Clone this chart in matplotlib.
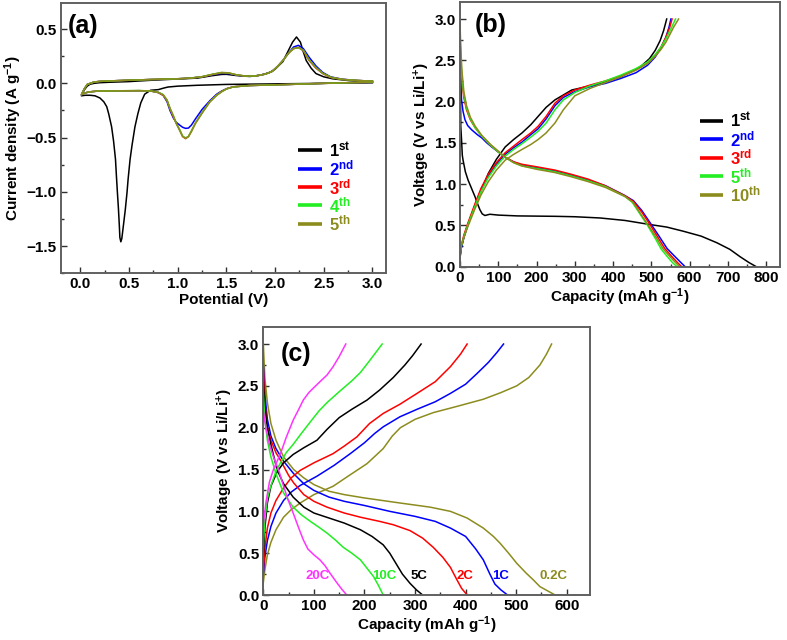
import matplotlib
matplotlib.use("Agg")
import matplotlib.pyplot as plt
from matplotlib.ticker import MultipleLocator

plt.rcParams['font.family'] = ['Liberation Sans', 'DejaVu Sans']
plt.rcParams['font.weight'] = 'bold'
plt.rcParams['axes.labelweight'] = 'bold'
plt.rcParams['mathtext.fontset'] = 'custom'
plt.rcParams['mathtext.rm'] = 'Liberation Sans:bold'
plt.rcParams['mathtext.bf'] = 'Liberation Sans:bold'
plt.rcParams['mathtext.it'] = 'Liberation Sans:bold'
plt.rcParams['mathtext.default'] = 'bf'

C_BLACK = '#000000'
C_BLUE = '#0000ff'
C_RED = '#ff0000'
C_GREEN = '#22ee22'
C_OLIVE = '#8c8c1e'
C_MAG = '#ff33ff'

# ---------------- (a) CV data ----------------
cv1_v_cath = [3.0, 2.5, 2.0, 1.5, 1.2, 1.0, 0.9, 0.85, 0.8, 0.72, 0.66, 0.62, 0.59, 0.56, 0.53,
              0.51, 0.49, 0.478, 0.46, 0.44, 0.425, 0.415, 0.405, 0.40, 0.39, 0.38, 0.37, 0.36,
              0.34, 0.32, 0.29, 0.27, 0.24, 0.2, 0.15, 0.1, 0.05, 0.01]
cv1_i_cath = [0.005, 0.0, -0.005, -0.01, -0.018, -0.026, -0.034, -0.045, -0.058, -0.064, -0.10,
              -0.18, -0.28, -0.40, -0.57, -0.70, -0.88, -1.01, -1.17, -1.32, -1.43, -1.46, -1.42,
              -1.32, -1.15, -1.01, -0.86, -0.70, -0.53, -0.40, -0.28, -0.215, -0.17, -0.135,
              -0.115, -0.11, -0.11, -0.115]
cv1_v_an = [0.01, 0.04, 0.07, 0.1, 0.14, 0.2, 0.3, 0.5, 0.72, 1.0, 1.2, 1.35, 1.45, 1.5, 1.6,
            1.74, 1.85, 1.945, 2.0, 2.08, 2.13, 2.18, 2.22, 2.26, 2.29, 2.32, 2.37, 2.42, 2.5,
            2.59, 2.76, 3.0]
cv1_i_an = [-0.115, -0.06, -0.025, -0.008, 0.0, 0.006, 0.01, 0.016, 0.028, 0.04, 0.048, 0.07,
            0.082, 0.083, 0.072, 0.063, 0.075, 0.1, 0.13, 0.2, 0.29, 0.38, 0.427, 0.38, 0.29,
            0.21, 0.14, 0.09, 0.06, 0.042, 0.025, 0.014]

cv_v_cath = [3.0, 2.5, 2.08, 1.74, 1.57, 1.5, 1.45, 1.4, 1.33, 1.25, 1.18, 1.14, 1.11, 1.08, 1.05,
             1.02, 0.985, 0.955, 0.92, 0.89, 0.85, 0.8, 0.72, 0.6, 0.48, 0.3, 0.17, 0.08, 0.03, 0.01]
cv2_i_cath = [0.01, 0.0, -0.012, -0.02, -0.032, -0.05, -0.072, -0.10, -0.16, -0.24, -0.33, -0.385,
              -0.412, -0.415, -0.405, -0.385, -0.36, -0.32, -0.25, -0.17, -0.11, -0.085, -0.07,
              -0.068, -0.069, -0.07, -0.072, -0.08, -0.095, -0.105]
cv3_i_cath = [0.01, 0.0, -0.012, -0.02, -0.032, -0.05, -0.075, -0.108, -0.17, -0.27, -0.37, -0.44,
              -0.49, -0.51, -0.49, -0.43, -0.37, -0.31, -0.235, -0.16, -0.11, -0.085, -0.07,
              -0.068, -0.069, -0.07, -0.072, -0.08, -0.095, -0.105]
cv4_i_cath = [0.01, 0.0, -0.012, -0.02, -0.033, -0.052, -0.078, -0.11, -0.17, -0.27, -0.37, -0.44,
              -0.49, -0.505, -0.485, -0.43, -0.37, -0.30, -0.23, -0.155, -0.105, -0.083, -0.07,
              -0.067, -0.068, -0.07, -0.072, -0.08, -0.095, -0.105]
cv5_i_cath = [0.012, 0.0, -0.012, -0.02, -0.033, -0.052, -0.078, -0.11, -0.17, -0.275, -0.37,
              -0.445, -0.49, -0.505, -0.49, -0.435, -0.37, -0.30, -0.23, -0.155, -0.105, -0.083,
              -0.07, -0.067, -0.068, -0.07, -0.072, -0.08, -0.095, -0.105]
cv_v_an = [0.01, 0.04, 0.07, 0.14, 0.2, 0.3, 0.48, 0.72, 1.0, 1.13, 1.25, 1.35, 1.45, 1.52, 1.6,
           1.7, 1.8, 1.9, 1.97, 2.03, 2.08, 2.14, 2.19, 2.24, 2.29, 2.35, 2.42, 2.49, 2.57, 2.69,
           2.85, 3.0]
cv2_i_an = [-0.105, -0.05, -0.01, 0.012, 0.018, 0.022, 0.028, 0.035, 0.042, 0.048, 0.06, 0.078,
            0.092, 0.09, 0.076, 0.065, 0.068, 0.085, 0.11, 0.16, 0.21, 0.28, 0.335, 0.35, 0.32,
            0.24, 0.16, 0.10, 0.06, 0.038, 0.026, 0.02]
cv3_i_an = [-0.105, -0.05, -0.01, 0.012, 0.018, 0.022, 0.028, 0.035, 0.042, 0.048, 0.06, 0.08,
            0.097, 0.095, 0.078, 0.066, 0.068, 0.085, 0.11, 0.16, 0.21, 0.28, 0.32, 0.33, 0.30,
            0.21, 0.14, 0.09, 0.055, 0.036, 0.026, 0.02]
cv4_i_an = [-0.105, -0.05, -0.01, 0.012, 0.018, 0.022, 0.028, 0.035, 0.042, 0.048, 0.061, 0.082,
            0.099, 0.096, 0.079, 0.066, 0.068, 0.085, 0.11, 0.16, 0.21, 0.28, 0.32, 0.33, 0.305,
            0.215, 0.145, 0.092, 0.056, 0.036, 0.026, 0.02]
cv5_i_an = [-0.105, -0.05, -0.01, 0.012, 0.018, 0.022, 0.028, 0.035, 0.042, 0.048, 0.061, 0.082,
            0.1, 0.097, 0.079, 0.066, 0.068, 0.085, 0.11, 0.16, 0.21, 0.28, 0.32, 0.33, 0.305,
            0.215, 0.145, 0.092, 0.056, 0.036, 0.026, 0.02]
cv_labels = [r'1$^{st}$', r'2$^{nd}$', r'3$^{rd}$', r'4$^{th}$', r'5$^{th}$']

# ---------------- (b) cycling data ----------------
b1_dis_cap = [0, 1, 2, 4, 6, 8, 14, 21, 30, 39, 46, 52, 58, 65, 78, 100, 150, 250, 300, 366, 431,
              497, 540, 583, 630, 671, 705, 732, 755, 774]
b1_dis_v = [2.9, 2.2, 1.7, 1.54, 1.35, 1.29, 1.15, 1.05, 0.95, 0.85, 0.76, 0.69, 0.64, 0.62, 0.635,
            0.625, 0.615, 0.61, 0.605, 0.59, 0.56, 0.51, 0.48, 0.43, 0.37, 0.29, 0.21, 0.12, 0.05, 0.0]
b1_ch_cap = [0, 3, 10, 20, 39, 55, 74, 95, 118, 140, 162, 185, 204, 225, 248, 270, 292, 330, 366,
             420, 471, 495, 510, 523, 532, 540]
b1_ch_v = [0.12, 0.22, 0.35, 0.5, 0.73, 0.92, 1.13, 1.3, 1.45, 1.54, 1.62, 1.72, 1.82, 1.93, 2.02,
           2.08, 2.14, 2.18, 2.22, 2.3, 2.42, 2.52, 2.62, 2.74, 2.86, 3.0]

b2_dis_cap = [0, 2, 4, 8, 13, 20, 30, 45, 57, 70, 83, 100, 120, 140, 162, 200, 248, 290, 335, 380,
              431, 453, 475, 497, 520, 541, 560, 575, 588]
b2_dis_v = [2.45, 2.25, 2.02, 1.88, 1.78, 1.71, 1.66, 1.6, 1.56, 1.5, 1.45, 1.39, 1.32, 1.27, 1.23,
            1.2, 1.16, 1.11, 1.05, 0.98, 0.86, 0.8, 0.68, 0.53, 0.37, 0.22, 0.13, 0.06, 0.0]
b3_dis_cap = [0, 2, 5, 10, 17, 27, 40, 57, 80, 100, 120, 140, 162, 200, 248, 290, 335, 380, 431,
              453, 475, 495, 515, 535, 552, 566, 579]
b3_dis_v = [2.8, 2.5, 2.25, 2.05, 1.9, 1.78, 1.68, 1.58, 1.47, 1.39, 1.32, 1.27, 1.24, 1.21, 1.17,
            1.12, 1.06, 0.98, 0.86, 0.79, 0.66, 0.52, 0.37, 0.22, 0.13, 0.06, 0.0]
b5_dis_cap = [0, 2, 5, 10, 17, 27, 40, 57, 80, 100, 120, 140, 162, 200, 248, 290, 335, 380, 431,
              450, 470, 490, 508, 526, 542, 555, 567]
b5_dis_v = [2.85, 2.55, 2.3, 2.08, 1.92, 1.79, 1.68, 1.58, 1.47, 1.39, 1.32, 1.26, 1.22, 1.19, 1.15,
            1.1, 1.04, 0.97, 0.85, 0.78, 0.64, 0.5, 0.36, 0.21, 0.12, 0.05, 0.0]
b10_dis_cap = [0, 2, 5, 10, 17, 27, 40, 57, 80, 100, 120, 140, 162, 200, 248, 290, 335, 380, 431,
               452, 472, 492, 512, 530, 547, 561, 574]
b10_dis_v = [2.95, 2.65, 2.38, 2.12, 1.95, 1.81, 1.7, 1.59, 1.48, 1.4, 1.32, 1.26, 1.22, 1.18, 1.14,
             1.09, 1.03, 0.96, 0.85, 0.78, 0.64, 0.5, 0.36, 0.22, 0.13, 0.06, 0.0]

b_ch_cap = [0, 3, 10, 20, 39, 55, 74, 95, 118, 140, 162, 185, 204, 225, 248, 270, 300, 340, 380,
            420, 460, 490, 510, 525, 538]
b2_ch_v = [0.1, 0.22, 0.36, 0.5, 0.74, 0.93, 1.1, 1.24, 1.36, 1.44, 1.51, 1.6, 1.67, 1.79, 1.95,
           2.05, 2.12, 2.18, 2.22, 2.28, 2.35, 2.44, 2.54, 2.65, 2.78]
b3_ch_v = [0.12, 0.25, 0.38, 0.52, 0.76, 0.95, 1.12, 1.26, 1.38, 1.46, 1.54, 1.62, 1.7, 1.82, 1.98,
           2.07, 2.14, 2.2, 2.25, 2.31, 2.39, 2.47, 2.56, 2.66, 2.78]
b5_ch_v = [0.12, 0.24, 0.36, 0.5, 0.73, 0.91, 1.08, 1.22, 1.34, 1.42, 1.49, 1.57, 1.64, 1.74, 1.9,
           2.02, 2.11, 2.19, 2.25, 2.32, 2.4, 2.48, 2.57, 2.66, 2.76]
b10_ch_v = [0.15, 0.25, 0.35, 0.48, 0.7, 0.87, 1.03, 1.17, 1.29, 1.36, 1.42, 1.48, 1.54, 1.62, 1.74,
            1.9, 2.07, 2.16, 2.23, 2.3, 2.38, 2.46, 2.55, 2.63, 2.72]
b2_ch_end_cap = [546, 551]
b3_ch_end_cap = [548, 554]
b5_ch_end_cap = [553, 563]
b10_ch_end_cap = [558, 571]
b_ch_end_v = [2.9, 3.0]
b_labels = [r'1$^{st}$', r'2$^{nd}$', r'3$^{rd}$', r'5$^{th}$', r'10$^{th}$']

# ---------------- (c) rate data ----------------
rates = ['0.2C', '1C', '2C', '5C', '10C', '20C']

c02_dis_cap = [0, 3, 8, 15, 25, 40, 60, 80, 100, 130, 160, 200, 270, 330, 370, 403, 435, 455, 468,
               485, 501, 520, 534, 547, 562, 577]
c02_dis_v = [3.0, 2.6, 2.3, 2.05, 1.85, 1.65, 1.5, 1.4, 1.32, 1.24, 1.2, 1.16, 1.1, 1.05, 1.0, 0.92,
             0.8, 0.7, 0.62, 0.5, 0.38, 0.26, 0.18, 0.1, 0.05, 0.0]
c1_dis_cap = [0, 3, 8, 15, 25, 40, 60, 80, 100, 130, 160, 200, 250, 300, 340, 370, 400, 420, 435,
              448, 458, 470, 483]
c1_dis_v = [2.75, 2.4, 2.1, 1.9, 1.75, 1.6, 1.45, 1.33, 1.25, 1.17, 1.12, 1.07, 1.0, 0.94, 0.88,
            0.8, 0.7, 0.55, 0.42, 0.25, 0.13, 0.06, 0.0]
c2_dis_cap = [0, 3, 8, 15, 25, 35, 50, 60, 80, 100, 126, 160, 192, 230, 257, 290, 315, 336, 355,
              370, 383, 392, 403]
c2_dis_v = [2.7, 2.3, 2.0, 1.85, 1.7, 1.6, 1.43, 1.34, 1.2, 1.12, 1.05, 0.98, 0.93, 0.88, 0.84,
            0.77, 0.68, 0.57, 0.45, 0.33, 0.18, 0.08, 0.0]
c5_dis_cap = [0, 3, 8, 15, 27, 40, 59, 80, 100, 130, 160, 192, 215, 237, 250, 262, 275, 290, 303, 315]
c5_dis_v = [2.55, 2.25, 2.0, 1.8, 1.5, 1.33, 1.17, 1.05, 0.98, 0.92, 0.86, 0.78, 0.7, 0.6, 0.5,
            0.38, 0.25, 0.14, 0.06, 0.0]
c10_dis_cap = [0, 3, 8, 15, 25, 40, 59, 75, 93, 110, 126, 142, 158, 175, 192, 205, 218, 228, 237]
c10_dis_v = [2.4, 2.1, 1.85, 1.65, 1.45, 1.22, 1.05, 0.96, 0.88, 0.81, 0.74, 0.66, 0.57, 0.5, 0.42,
             0.32, 0.22, 0.11, 0.0]
c20_dis_cap = [0, 5, 12, 20, 30, 40, 50, 59, 70, 79, 88, 100, 112, 122, 132, 145, 155, 165]
c20_dis_v = [2.2, 2.0, 1.8, 1.65, 1.5, 1.3, 1.12, 0.98, 0.8, 0.66, 0.55, 0.48, 0.42, 0.35, 0.26,
             0.15, 0.07, 0.0]

c02_ch_cap = [0, 3, 8, 15, 25, 40, 55, 73, 100, 138, 170, 205, 237, 255, 271, 300, 336, 380, 435,
              470, 501, 525, 547, 560, 570]
c02_ch_v = [0.15, 0.3, 0.48, 0.63, 0.78, 0.93, 1.02, 1.1, 1.2, 1.3, 1.43, 1.57, 1.75, 1.9, 2.0,
            2.1, 2.18, 2.25, 2.34, 2.42, 2.5, 2.6, 2.75, 2.88, 3.0]
c1_ch_cap = [0, 3, 8, 15, 25, 40, 55, 73, 106, 140, 172, 200, 220, 237, 270, 304, 340, 370, 400,
             423, 445, 462, 475]
c1_ch_v = [0.25, 0.45, 0.65, 0.82, 0.98, 1.13, 1.23, 1.31, 1.42, 1.55, 1.69, 1.82, 1.93, 2.01,
           2.13, 2.22, 2.31, 2.41, 2.52, 2.65, 2.78, 2.9, 3.0]
c2_ch_cap = [0, 3, 8, 15, 25, 40, 55, 73, 100, 138, 160, 185, 210, 237, 270, 304, 340, 370, 390, 403]
c2_ch_v = [0.3, 0.55, 0.8, 0.98, 1.13, 1.28, 1.4, 1.49, 1.58, 1.69, 1.78, 1.89, 2.05, 2.17, 2.28,
           2.41, 2.55, 2.73, 2.88, 3.0]
c5_ch_cap = [0, 3, 8, 15, 27, 40, 59, 80, 106, 126, 150, 175, 205, 230, 257, 280, 295, 312]
c5_ch_v = [0.45, 0.8, 1.1, 1.3, 1.47, 1.58, 1.68, 1.76, 1.85, 1.98, 2.12, 2.22, 2.33, 2.45, 2.6,
           2.75, 2.86, 3.0]
c10_ch_cap = [0, 3, 8, 14, 25, 34, 45, 59, 75, 93, 110, 126, 150, 175, 192, 210, 235]
c10_ch_v = [0.6, 0.9, 1.15, 1.29, 1.48, 1.58, 1.7, 1.8, 1.93, 2.07, 2.2, 2.3, 2.43, 2.56, 2.66,
            2.8, 3.0]
c20_ch_cap = [0, 5, 12, 20, 34, 45, 59, 70, 79, 90, 100, 112, 126, 138, 150, 163]
c20_ch_v = [0.85, 1.1, 1.35, 1.5, 1.69, 1.88, 2.09, 2.22, 2.33, 2.42, 2.48, 2.55, 2.63, 2.73, 2.85, 3.0]

# ---------------- figure ----------------
fig = plt.figure(figsize=(7.87, 6.40), dpi=100)
axa = fig.add_axes([0.0775, 0.573, 0.413, 0.4223])
axb = fig.add_axes([0.5845, 0.5833, 0.4066, 0.4128])
axc = fig.add_axes([0.3346, 0.0703, 0.4151, 0.4183])

SPINE = '#606060'
for ax in (axa, axb, axc):
    for s in ax.spines.values():
        s.set_color(SPINE)
        s.set_linewidth(1.4)
    ax.tick_params(which='both', direction='in', top=False, right=False, labelsize=11,
                   color='#303030', width=1.0, pad=3)
    ax.tick_params(which='major', length=4.5)
    ax.tick_params(which='minor', length=2.5)


def manual_legend(ax, labels, colors, x0, x1, xt, y0, dy):
    for i, (lab, col) in enumerate(zip(labels, colors)):
        y = y0 - i * dy
        ax.plot([x0, x1], [y, y], transform=ax.transAxes, color=col, lw=2.6,
                solid_capstyle='butt', clip_on=False)
        ax.text(xt, y, lab, transform=ax.transAxes, color=col, fontsize=12,
                fontweight='bold', ha='left', va='center')


LW = 1.1
# (a)
cv_cols = [C_BLACK, C_BLUE, C_RED, C_GREEN, C_OLIVE]
cath_list = [cv2_i_cath, cv3_i_cath, cv4_i_cath, cv5_i_cath]
an_list = [cv2_i_an, cv3_i_an, cv4_i_an, cv5_i_an]
axa.plot(cv1_v_cath + cv1_v_an, cv1_i_cath + cv1_i_an, color=cv_cols[0], lw=LW)
for k in range(4):
    axa.plot(cv_v_cath + cv_v_an, cath_list[k] + an_list[k], color=cv_cols[k + 1], lw=LW)
axa.set_xlim(-0.2, 3.14)
axa.set_ylim(-1.75, 0.74)
axa.xaxis.set_major_locator(MultipleLocator(0.5))
axa.xaxis.set_minor_locator(MultipleLocator(0.25))
axa.yaxis.set_major_locator(MultipleLocator(0.5))
axa.yaxis.set_minor_locator(MultipleLocator(0.25))
axa.set_xlabel('Potential (V)', fontsize=11, fontweight='bold', labelpad=1)
axa.set_ylabel(r'Current density (A g$^{-1}$)', fontsize=11, fontweight='bold', labelpad=2)
axa.text(0.02, 0.96, '(a)', transform=axa.transAxes, fontsize=18, fontweight='bold',
         va='top', ha='left')
manual_legend(axa, cv_labels, cv_cols, 0.729, 0.803, 0.826, 0.455, 0.068)

# (b)
axb.plot(b1_dis_cap, b1_dis_v, color=C_BLACK, lw=LW)
axb.plot(b1_ch_cap, b1_ch_v, color=C_BLACK, lw=LW)
b_sets = [(b2_dis_cap, b2_dis_v, b2_ch_v, b2_ch_end_cap, C_BLUE),
          (b3_dis_cap, b3_dis_v, b3_ch_v, b3_ch_end_cap, C_RED),
          (b5_dis_cap, b5_dis_v, b5_ch_v, b5_ch_end_cap, C_GREEN),
          (b10_dis_cap, b10_dis_v, b10_ch_v, b10_ch_end_cap, C_OLIVE)]
for k, (dc, dv, cv, ce, col) in enumerate(b_sets):
    axb.plot(dc, dv, color=col, lw=LW)
    axb.plot(b_ch_cap + ce, cv + b_ch_end_v, color=col, lw=LW)
axb.set_xlim(0, 836)
axb.set_ylim(0, 3.2)
axb.xaxis.set_major_locator(MultipleLocator(100))
axb.xaxis.set_minor_locator(MultipleLocator(50))
axb.yaxis.set_major_locator(MultipleLocator(0.5))
axb.yaxis.set_minor_locator(MultipleLocator(0.25))
axb.set_xlabel(r'Capacity (mAh g$^{-1}$)', fontsize=11, fontweight='bold', labelpad=1)
axb.set_ylabel(r'Voltage (V vs Li/Li$^{+}$)', fontsize=11, fontweight='bold', labelpad=2)
axb.text(0.047, 0.96, '(b)', transform=axb.transAxes, fontsize=18, fontweight='bold',
         va='top', ha='left')
manual_legend(axb, b_labels, [C_BLACK, C_BLUE, C_RED, C_GREEN, C_OLIVE],
              0.75, 0.822, 0.845, 0.552, 0.07)

# (c)
c_sets = [(c02_dis_cap, c02_dis_v, c02_ch_cap, c02_ch_v, C_OLIVE, 574),
          (c1_dis_cap, c1_dis_v, c1_ch_cap, c1_ch_v, C_BLUE, 470),
          (c2_dis_cap, c2_dis_v, c2_ch_cap, c2_ch_v, C_RED, 399),
          (c5_dis_cap, c5_dis_v, c5_ch_cap, c5_ch_v, C_BLACK, 308),
          (c10_dis_cap, c10_dis_v, c10_ch_cap, c10_ch_v, C_GREEN, 239),
          (c20_dis_cap, c20_dis_v, c20_ch_cap, c20_ch_v, C_MAG, 107)]
for k, (dc, dv, cc, cv, col, lx) in enumerate(c_sets):
    axc.plot(dc, dv, color=col, lw=LW)
    axc.plot(cc, cv, color=col, lw=LW)
    axc.text(lx, 0.23, rates[k], color=col, fontsize=9.5, fontweight='bold', ha='center',
             va='center')
axc.set_xlim(0, 646)
axc.set_ylim(0, 3.2)
axc.xaxis.set_major_locator(MultipleLocator(100))
axc.xaxis.set_minor_locator(MultipleLocator(50))
axc.yaxis.set_major_locator(MultipleLocator(0.5))
axc.yaxis.set_minor_locator(MultipleLocator(0.25))
axc.set_xlabel(r'Capacity (mAh g$^{-1}$)', fontsize=11, fontweight='bold', labelpad=1)
axc.set_ylabel(r'Voltage (V vs Li/Li$^{+}$)', fontsize=11, fontweight='bold', labelpad=2)
axc.text(0.052, 0.945, '(c)', transform=axc.transAxes, fontsize=18, fontweight='bold',
         va='top', ha='left')

fig.savefig('out.png', dpi=100, facecolor='white')
